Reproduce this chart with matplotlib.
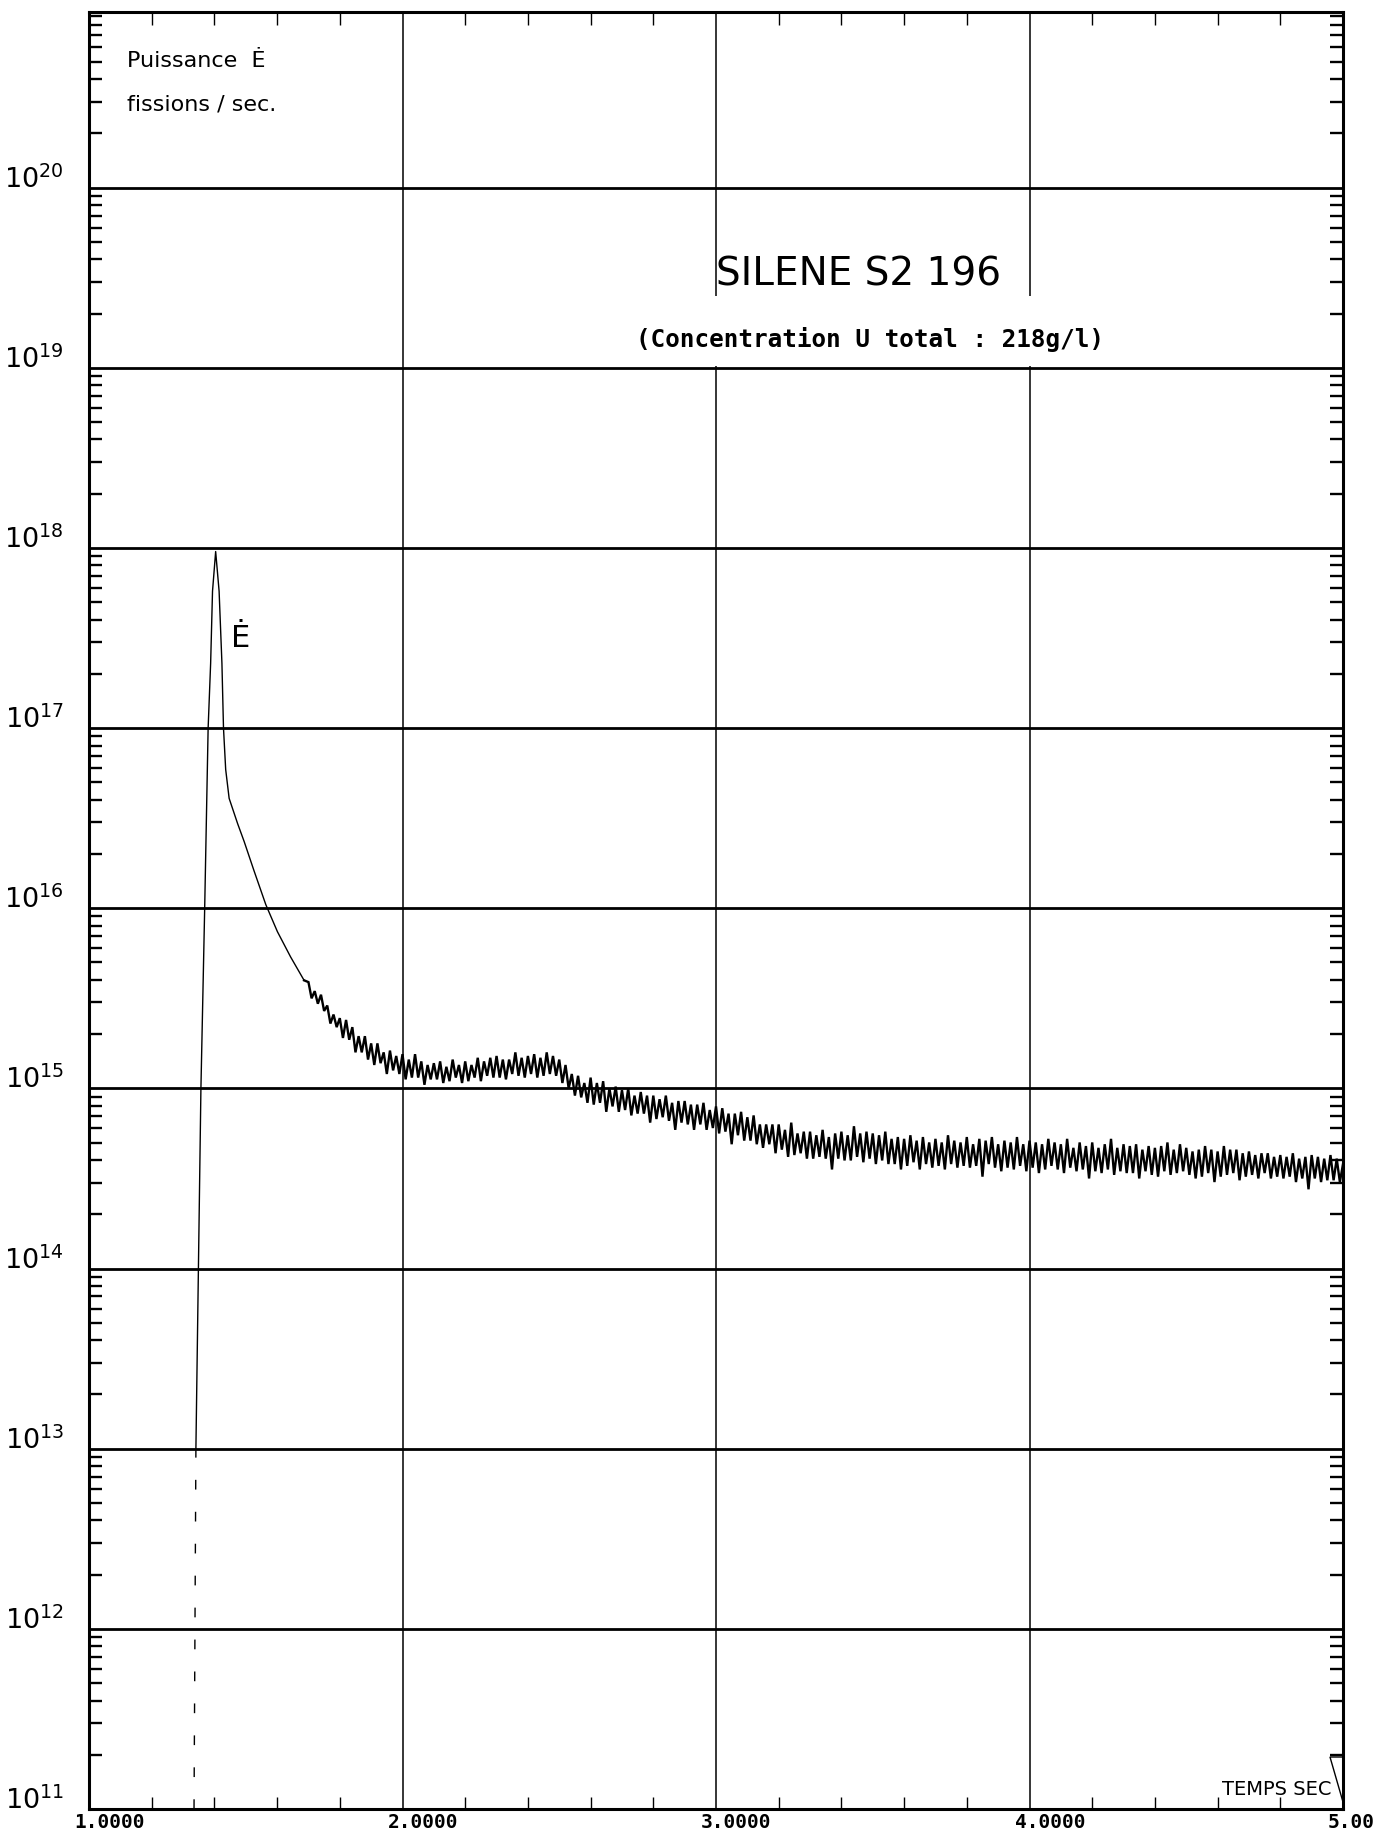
import numpy as np
import matplotlib
matplotlib.use("Agg")
import matplotlib.pyplot as plt
import matplotlib.transforms as mtransforms
from matplotlib.ticker import LogLocator, NullFormatter, MultipleLocator
from matplotlib.patches import Rectangle, Polygon

# ---------------- data ----------------
# excursion: rise, peak and fast decay (time in s, log10 of fissions/s)
peak_time = [1.335, 1.338, 1.341, 1.349, 1.357, 1.369, 1.380, 1.388, 1.394, 1.404,
             1.415, 1.424, 1.429, 1.436, 1.447, 1.474, 1.495, 1.526, 1.564, 1.601,
             1.643, 1.686]
peak_log10_power = [11.0, 12.0, 13.0, 14.0, 15.0, 16.0, 17.0, 17.36, 17.76, 17.98,
                    17.76, 17.36, 17.0, 16.77, 16.61, 16.47, 16.37, 16.21, 16.02, 15.87,
                    15.73, 15.60]

# noisy tail of the record
tail_time = [
    1.70, 1.71, 1.72, 1.73, 1.74, 1.75, 1.76, 1.77, 1.78, 1.79,
    1.80, 1.81, 1.82, 1.83, 1.84, 1.85, 1.86, 1.87, 1.88, 1.89,
    1.90, 1.91, 1.92, 1.93, 1.94, 1.95, 1.96, 1.97, 1.98, 1.99,
    2.00, 2.01, 2.02, 2.03, 2.04, 2.05, 2.06, 2.07, 2.08, 2.09,
    2.10, 2.11, 2.12, 2.13, 2.14, 2.15, 2.16, 2.17, 2.18, 2.19,
    2.20, 2.21, 2.22, 2.23, 2.24, 2.25, 2.26, 2.27, 2.28, 2.29,
    2.30, 2.31, 2.32, 2.33, 2.34, 2.35, 2.36, 2.37, 2.38, 2.39,
    2.40, 2.41, 2.42, 2.43, 2.44, 2.45, 2.46, 2.47, 2.48, 2.49,
    2.50, 2.51, 2.52, 2.53, 2.54, 2.55, 2.56, 2.57, 2.58, 2.59,
    2.60, 2.61, 2.62, 2.63, 2.64, 2.65, 2.66, 2.67, 2.68, 2.69,
    2.70, 2.71, 2.72, 2.73, 2.74, 2.75, 2.76, 2.77, 2.78, 2.79,
    2.80, 2.81, 2.82, 2.83, 2.84, 2.85, 2.86, 2.87, 2.88, 2.89,
    2.90, 2.91, 2.92, 2.93, 2.94, 2.95, 2.96, 2.97, 2.98, 2.99,
    3.00, 3.01, 3.02, 3.03, 3.04, 3.05, 3.06, 3.07, 3.08, 3.09,
    3.10, 3.11, 3.12, 3.13, 3.14, 3.15, 3.16, 3.17, 3.18, 3.19,
    3.20, 3.21, 3.22, 3.23, 3.24, 3.25, 3.26, 3.27, 3.28, 3.29,
    3.30, 3.31, 3.32, 3.33, 3.34, 3.35, 3.36, 3.37, 3.38, 3.39,
    3.40, 3.41, 3.42, 3.43, 3.44, 3.45, 3.46, 3.47, 3.48, 3.49,
    3.50, 3.51, 3.52, 3.53, 3.54, 3.55, 3.56, 3.57, 3.58, 3.59,
    3.60, 3.61, 3.62, 3.63, 3.64, 3.65, 3.66, 3.67, 3.68, 3.69,
    3.70, 3.71, 3.72, 3.73, 3.74, 3.75, 3.76, 3.77, 3.78, 3.79,
    3.80, 3.81, 3.82, 3.83, 3.84, 3.85, 3.86, 3.87, 3.88, 3.89,
    3.90, 3.91, 3.92, 3.93, 3.94, 3.95, 3.96, 3.97, 3.98, 3.99,
    4.00, 4.01, 4.02, 4.03, 4.04, 4.05, 4.06, 4.07, 4.08, 4.09,
    4.10, 4.11, 4.12, 4.13, 4.14, 4.15, 4.16, 4.17, 4.18, 4.19,
    4.20, 4.21, 4.22, 4.23, 4.24, 4.25, 4.26, 4.27, 4.28, 4.29,
    4.30, 4.31, 4.32, 4.33, 4.34, 4.35, 4.36, 4.37, 4.38, 4.39,
    4.40, 4.41, 4.42, 4.43, 4.44, 4.45, 4.46, 4.47, 4.48, 4.49,
    4.50, 4.51, 4.52, 4.53, 4.54, 4.55, 4.56, 4.57, 4.58, 4.59,
    4.60, 4.61, 4.62, 4.63, 4.64, 4.65, 4.66, 4.67, 4.68, 4.69,
    4.70, 4.71, 4.72, 4.73, 4.74, 4.75, 4.76, 4.77, 4.78, 4.79,
    4.80, 4.81, 4.82, 4.83, 4.84, 4.85, 4.86, 4.87, 4.88, 4.89,
    4.90, 4.91, 4.92, 4.93, 4.94, 4.95, 4.96, 4.97, 4.98, 4.99, 5.00]
tail_log10_power = [
    15.59, 15.50, 15.54, 15.47, 15.52, 15.43, 15.46, 15.36, 15.41, 15.34,
    15.39, 15.28, 15.38, 15.27, 15.34, 15.20, 15.29, 15.20, 15.29, 15.16,
    15.25, 15.13, 15.25, 15.14, 15.20, 15.08, 15.21, 15.10, 15.18, 15.08,
    15.19, 15.05, 15.16, 15.06, 15.19, 15.06, 15.15, 15.02, 15.13, 15.05,
    15.14, 15.05, 15.15, 15.03, 15.12, 15.04, 15.16, 15.06, 15.13, 15.03,
    15.15, 15.04, 15.13, 15.06, 15.17, 15.04, 15.15, 15.07, 15.17, 15.06,
    15.18, 15.06, 15.16, 15.05, 15.16, 15.08, 15.20, 15.07, 15.17, 15.06,
    15.18, 15.08, 15.19, 15.06, 15.17, 15.07, 15.20, 15.08, 15.18, 15.07,
    15.16, 15.03, 15.13, 15.00, 15.08, 14.96, 15.07, 14.95, 15.03, 14.92,
    15.06, 14.91, 15.03, 14.92, 15.04, 14.87, 15.00, 14.90, 15.01, 14.87,
    14.99, 14.88, 15.00, 14.85, 14.96, 14.86, 14.98, 14.86, 14.96, 14.81,
    14.96, 14.83, 14.94, 14.84, 14.96, 14.82, 14.92, 14.77, 14.93, 14.81,
    14.93, 14.80, 14.91, 14.77, 14.91, 14.80, 14.92, 14.77, 14.88, 14.78,
    14.90, 14.75, 14.89, 14.76, 14.86, 14.69, 14.86, 14.74, 14.87, 14.71,
    14.84, 14.71, 14.85, 14.69, 14.80, 14.67, 14.80, 14.69, 14.80, 14.64,
    14.80, 14.66, 14.77, 14.62, 14.81, 14.63, 14.75, 14.64, 14.76, 14.61,
    14.76, 14.61, 14.74, 14.62, 14.77, 14.61, 14.73, 14.55, 14.75, 14.61,
    14.76, 14.60, 14.74, 14.60, 14.79, 14.62, 14.75, 14.59, 14.76, 14.61,
    14.75, 14.58, 14.74, 14.60, 14.76, 14.58, 14.72, 14.58, 14.73, 14.55,
    14.72, 14.57, 14.74, 14.59, 14.71, 14.55, 14.73, 14.58, 14.70, 14.56,
    14.72, 14.57, 14.70, 14.55, 14.74, 14.58, 14.71, 14.56, 14.70, 14.57,
    14.73, 14.56, 14.69, 14.57, 14.72, 14.51, 14.71, 14.58, 14.73, 14.56,
    14.69, 14.54, 14.71, 14.56, 14.70, 14.55, 14.73, 14.57, 14.69, 14.54,
    14.71, 14.56, 14.70, 14.53, 14.69, 14.55, 14.72, 14.57, 14.70, 14.55,
    14.69, 14.53, 14.72, 14.56, 14.67, 14.54, 14.70, 14.55, 14.68, 14.50,
    14.70, 14.54, 14.67, 14.53, 14.69, 14.55, 14.72, 14.52, 14.67, 14.54,
    14.69, 14.53, 14.68, 14.53, 14.69, 14.50, 14.66, 14.54, 14.68, 14.52,
    14.67, 14.51, 14.68, 14.54, 14.70, 14.52, 14.66, 14.53, 14.69, 14.54,
    14.67, 14.52, 14.65, 14.50, 14.66, 14.51, 14.68, 14.53, 14.66, 14.48,
    14.65, 14.51, 14.68, 14.52, 14.66, 14.53, 14.66, 14.49, 14.64, 14.51,
    14.65, 14.52, 14.63, 14.50, 14.64, 14.53, 14.64, 14.50, 14.62, 14.51,
    14.63, 14.50, 14.62, 14.51, 14.64, 14.48, 14.61, 14.50, 14.62, 14.44,
    14.63, 14.50, 14.62, 14.48, 14.61, 14.49, 14.63, 14.49, 14.61, 14.48, 14.58]

decades = [11, 12, 13, 14, 15, 16, 17, 18, 19, 20]
x_major = [1.0, 2.0, 3.0, 4.0, 5.0]
x_major_labels = ["1.0000", "2.0000", "3.0000", "4.0000", "5.00"]

# ---------------- figure ----------------
W, H = 1387, 1832
fig = plt.figure(figsize=(W / 100, H / 100), dpi=100)
L, R, T, B = 89, 1343, 12, 1809
ax = fig.add_axes([L / W, 1 - B / H, (R - L) / W, (B - T) / H])
ax.set_yscale("log")
ax.set_xlim(1.0, 5.0)
ax.set_ylim(1e11, 10 ** 20.975)

# curve
pt = np.array(peak_time)
pp = 10.0 ** np.array(peak_log10_power)
ax.plot(pt[:3], pp[:3], color="k", lw=1.0, ls=(0, (7, 16)), zorder=3)
ax.plot(pt[2:], pp[2:], color="k", lw=1.0, zorder=3)
tt = np.concatenate([pt[-1:], np.array(tail_time)])
tp = np.concatenate([pp[-1:], 10.0 ** np.array(tail_log10_power)])
ax.plot(tt, tp, color="k", lw=1.7, zorder=3, solid_joinstyle="miter")

# ticks and grid
ax.set_yticks([10.0 ** d for d in decades])
ax.set_yticklabels([r"$\mathregular{10^{%d}}$" % d for d in decades])
ax.yaxis.set_minor_locator(LogLocator(base=10, subs=range(2, 10), numticks=30))
ax.yaxis.set_minor_formatter(NullFormatter())
ax.set_xticks(x_major)
ax.set_xticklabels(x_major_labels)
ax.xaxis.set_minor_locator(MultipleLocator(0.2))

ax.grid(True, which="major", axis="y", color="k", lw=2.0)
ax.grid(True, which="major", axis="x", color="k", lw=1.1)

ax.tick_params(axis="both", which="major", length=0, direction="in")
ax.tick_params(axis="x", which="minor", direction="in", top=True, bottom=True,
               length=9, width=1.0, color="k")
ax.tick_params(axis="y", which="minor", direction="in", left=True, right=True,
               length=9.5, width=1.7, color="k")
ax.tick_params(axis="y", which="major", labelsize=19.5, pad=18)
ax.tick_params(axis="x", which="major", labelsize=14, pad=3)

for lab in ax.get_yticklabels():
    lab.set_va("baseline")
shift = mtransforms.ScaledTranslation(-15 / 100, 0, fig.dpi_scale_trans)
for lab in ax.get_xticklabels():
    lab.set_fontfamily("DejaVu Sans Mono")
    lab.set_fontweight("bold")
    lab.set_ha("left")
    lab.set_transform(lab.get_transform() + shift)

for sp in ax.spines.values():
    sp.set_linewidth(2.2)
    sp.set_color("k")

# blank band of the grid behind the subtitle
ax.add_patch(Rectangle((0.48, 0.803), 0.31, 0.039, transform=ax.transAxes,
                       facecolor="white", edgecolor="none", zorder=1.8))

# texts
def fx(px):
    return (px - L) / (R - L)

def fy(py):
    return (B - py) / (B - T)

ax.text(fx(127), fy(67), "Puissance  Ė", transform=ax.transAxes, fontsize=16,
        family="DejaVu Sans", ha="left", va="baseline", zorder=4)
ax.text(fx(127), fy(110), "fissions / sec.", transform=ax.transAxes, fontsize=16,
        family="DejaVu Sans", ha="left", va="baseline", zorder=4)
ax.text(fx(716), fy(285), "SILENE S2 196", transform=ax.transAxes, fontsize=28,
        family="DejaVu Sans", ha="left", va="baseline", zorder=4)
ax.text(fx(870), fy(347), "(Concentration U total : 218g/l)", transform=ax.transAxes,
        fontsize=17.5, family="DejaVu Sans Mono", fontweight="bold",
        ha="center", va="baseline", zorder=4)
ax.text(1.452, 10 ** 17.45, "Ė", fontsize=22, family="DejaVu Sans",
        ha="left", va="baseline", zorder=4)
ax.text(fx(1222), fy(1795), "TEMPS SEC", transform=ax.transAxes, fontsize=14,
        family="DejaVu Sans", ha="left", va="baseline", zorder=4)
ax.add_patch(Polygon([(fx(1330), fy(1757)), (fx(1343), fy(1757)), (fx(1343), fy(1802))],
                     closed=True, transform=ax.transAxes, fill=False,
                     edgecolor="k", lw=1.0, zorder=4, clip_on=False))

fig.savefig("out.png", dpi=100)
